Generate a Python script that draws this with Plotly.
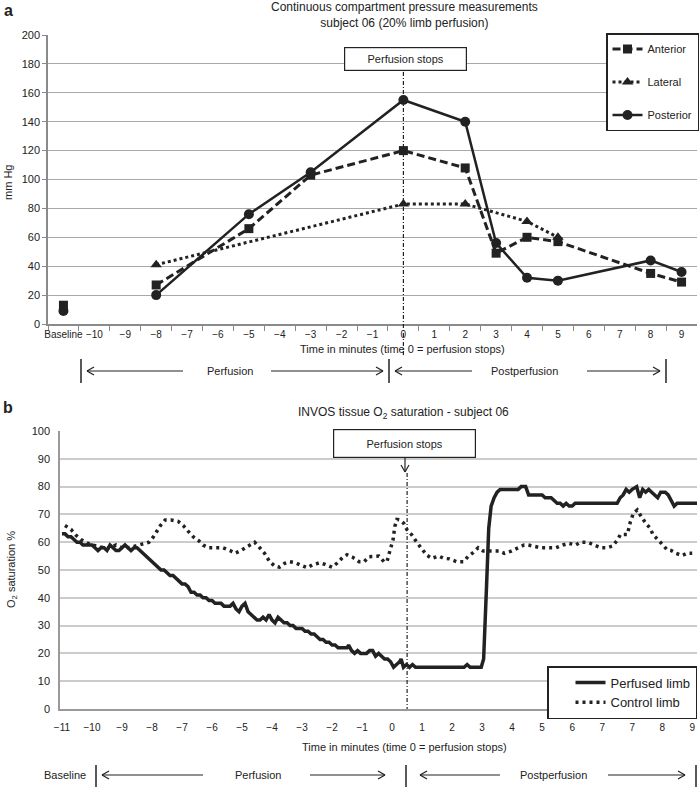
import plotly.graph_objects as go

W, H = 700, 787
FONT = "Liberation Sans, Arial, sans-serif"
INK = "#222222"


def px(x):
    return x / W


def py(y):
    return 1 - y / H


# ---------------- data: panel a ----------------
categories = ["Baseline", "−10", "−9", "−8", "−7", "−6", "−5", "−4", "−3", "−2", "−1",
              "0", "1", "2", "3", "4", "5", "6", "7", "8", "9"]
anterior_t = ["Baseline", "−8", "−5", "−3", "0", "2", "3", "4", "5", "8", "9"]
anterior_v = [13, 27, 66, 103, 120, 108, 49, 60, 57, 35, 29]
lateral_t = ["−8", "0", "2", "4", "5"]
lateral_v = [41, 83, 83, 71, 60]
posterior_t = ["Baseline", "−8", "−5", "−3", "0", "2", "3", "4", "5", "8", "9"]
posterior_v = [9, 20, 76, 105, 155, 140, 56, 32, 30, 44, 36]

# ---------------- data: panel b ----------------
tick_labels = ["−11", "−10", "−9", "−8", "−7", "−6", "−5", "−4", "−3", "−2", "−1",
               "0", "1", "2", "3", "4", "5", "6", "7", "7", "8", "9"]
perf_t = [0.0, 0.1, 0.2, 0.3, 0.4, 0.5, 0.6, 0.7, 0.8, 0.9, 1.0, 1.1, 1.2, 1.3, 1.4,
          1.5, 1.6, 1.7, 1.8, 1.9, 2.0, 2.1, 2.2, 2.3, 2.4, 2.5, 2.6, 2.7, 2.8, 2.9,
          3.0, 3.1, 3.2, 3.3, 3.4, 3.5, 3.6, 3.7, 3.8, 3.9, 4.0, 4.1, 4.2, 4.3, 4.4,
          4.5, 4.6, 4.7, 4.8, 4.9, 5.0, 5.1, 5.2, 5.3, 5.4, 5.5, 5.6, 5.7, 5.8, 5.9,
          6.0, 6.1, 6.2, 6.3, 6.4, 6.5, 6.6, 6.7, 6.8, 6.9, 7.0, 7.1, 7.2, 7.3, 7.4,
          7.5, 7.6, 7.7, 7.8, 7.9, 8.0, 8.1, 8.2, 8.3, 8.4, 8.5, 8.6, 8.7, 8.8, 8.9,
          9.0, 9.1, 9.2, 9.3, 9.4, 9.5, 9.55, 9.65, 9.75, 9.85, 9.95, 10.05, 10.15,
          10.25, 10.35, 10.45, 10.55, 10.65, 10.75, 10.85, 10.95, 11.05, 11.15, 11.25,
          11.3, 11.38, 11.48, 11.58, 11.68, 11.78, 12.5, 13.4, 13.5, 13.6, 13.97,
          14.05, 14.15, 14.22, 14.3, 14.4, 14.5, 14.6, 14.8, 15.2, 15.3, 15.45, 15.55,
          16.0, 16.1, 16.3, 16.4, 16.5, 16.6, 16.7, 16.8, 16.9, 17.0, 17.1, 17.5, 18.0,
          18.5, 18.6, 18.7, 18.8, 18.9, 19.0, 19.15, 19.25, 19.35, 19.45, 19.55, 19.65,
          19.75, 19.85, 19.95, 20.1, 20.2, 20.3, 20.4, 20.5, 21.16]
perf_v = [63, 63, 62, 62, 61, 60, 60, 59, 59, 59, 59, 58, 57, 58, 58,
          57, 59, 58, 57, 57, 58, 59, 58, 57, 58, 58, 57, 56, 55, 54,
          53, 52, 51, 50, 50, 49, 48, 48, 47, 46, 45, 45, 44, 42, 42,
          41, 41, 40, 40, 39, 39, 38, 38, 38, 37, 37, 37, 38, 36, 35,
          37, 38, 35, 34, 33, 32, 32, 33, 32, 34, 32, 31, 33, 32, 31,
          31, 30, 30, 29, 29, 29, 28, 28, 27, 27, 26, 25, 25, 24, 24,
          23, 23, 22, 22, 22, 22, 23, 21, 20, 21, 20, 20, 20,
          21, 21, 19, 20, 19, 18, 18, 17, 15, 16, 17,
          18, 15, 16, 15, 16, 15, 15, 15, 16, 15, 15,
          18, 45, 65, 73, 76, 78, 79, 79, 79, 80, 80, 77,
          77, 76, 76, 75, 74, 74, 73, 74, 73, 73, 74, 74, 74,
          74, 76, 77, 79, 78, 79, 80, 76, 79, 78, 79, 78,
          77, 76, 78, 78, 77, 75, 73, 74, 74]
ctrl_t = [0.1, 0.3, 0.46, 0.63, 0.83, 1.0, 1.2, 1.4, 1.6, 1.8, 2.0, 2.2, 2.4, 2.6, 2.9,
          3.05, 3.2, 3.28, 3.44, 3.64, 3.87, 4.04, 4.2, 4.37, 4.54, 4.7, 4.87, 5.13,
          5.36, 5.6, 5.76, 5.96, 6.19, 6.42, 6.59, 6.75, 6.92, 7.09, 7.25, 7.42, 7.58,
          7.78, 7.95, 8.18, 8.34, 8.58, 8.77, 9.0, 9.17, 9.34, 9.5, 9.67, 9.9, 10.07,
          10.23, 10.4, 10.56, 10.73, 10.83, 10.93, 11.03, 11.09, 11.16, 11.26, 11.39,
          11.49, 11.66, 11.82, 11.99, 12.15, 12.32, 12.55, 12.72, 12.91, 13.15, 13.38,
          13.54, 13.71, 13.87, 14.04, 14.21, 14.37, 14.57, 14.74, 14.97, 15.2, 15.4,
          15.53, 15.73, 15.96, 16.23, 16.46, 16.69, 16.89, 17.12, 17.28, 17.52, 17.72,
          17.95, 18.18, 18.34, 18.51, 18.61, 18.84, 18.94, 19.04, 19.17, 19.27, 19.44,
          19.6, 19.7, 19.87, 20.03, 20.17, 20.3, 20.46, 20.66, 20.83, 21.0]
ctrl_v = [66, 64.6, 62.6, 61, 59.8, 59, 58.5, 58, 58, 59, 58, 58, 58.5, 59, 60,
          62, 64.4, 66, 68, 68, 67.5, 66, 64, 62, 60.7, 59, 58, 58,
          58, 57, 56, 57, 58.5, 60, 58, 56, 53, 51.4, 51, 52.4, 53,
          52.6, 51.8, 50.8, 51.8, 52.6, 52, 51, 52.5, 54.4, 55.5, 54.7, 53, 53,
          54.8, 55, 55, 53, 53, 57, 60.8, 65.6, 68.2, 68, 66.8,
          64.6, 62.6, 60, 57.4, 55.4, 54.2, 55, 54.2, 54, 53, 53,
          55, 56.3, 58, 56.8, 56.8, 56.8, 56.8, 56, 56.8, 58, 59,
          59, 58.6, 58, 58, 58, 59, 59.6, 59, 60, 60, 59,
          58, 58, 58.6, 60.8, 62.8, 62.8, 67.4, 70.4, 71.6, 69.8, 67,
          65, 62.6, 60.8, 59, 57.2, 57, 56, 55.2, 56, 56]


def with_gap(t, v):
    xs, ys = [], []
    for a, b in zip(t, v):
        if xs and xs[-1] == "Baseline":
            xs.append(categories[1])
            ys.append(None)
        xs.append(a)
        ys.append(b)
    return xs, ys


fig = go.Figure()

ax, ay = with_gap(anterior_t, anterior_v)
fig.add_trace(go.Scatter(x=ax, y=ay, name="Anterior", mode="lines+markers",
                         line=dict(color=INK, width=3, dash="8px,4px"),
                         marker=dict(symbol="square", size=9, color=INK),
                         xaxis="x", yaxis="y", legend="legend", legendgroup="a"))
lx, ly = with_gap(lateral_t, lateral_v)
fig.add_trace(go.Scatter(x=lx, y=ly, name="Lateral", mode="lines+markers",
                         line=dict(color=INK, width=3, dash="3px,3px"),
                         marker=dict(symbol="triangle-up", size=10, color=INK),
                         xaxis="x", yaxis="y", legend="legend", legendgroup="b"))
qx, qy = with_gap(posterior_t, posterior_v)
fig.add_trace(go.Scatter(x=qx, y=qy, name="Posterior", mode="lines+markers",
                         line=dict(color=INK, width=2.5),
                         marker=dict(symbol="circle", size=10, color=INK),
                         xaxis="x", yaxis="y", legend="legend", legendgroup="c"))

fig.add_trace(go.Scatter(x=perf_t, y=perf_v, name="Perfused limb", mode="lines",
                         line=dict(color=INK, width=3.5),
                         xaxis="x2", yaxis="y2", legend="legend2", legendgroup="d"))
fig.add_trace(go.Scatter(x=ctrl_t, y=ctrl_v, name="Control limb", mode="lines",
                         line=dict(color=INK, width=3.5, dash="3px,4px"),
                         xaxis="x2", yaxis="y2", legend="legend2", legendgroup="e"))

tf = dict(family=FONT, size=11, color=INK)

layout = dict(
    width=W, height=H, margin=dict(l=0, r=0, t=0, b=0, autoexpand=False),
    paper_bgcolor="white", plot_bgcolor="white",
    font=tf,
    xaxis=dict(domain=[px(48), px(697)], anchor="y", type="category",
               categoryorder="array", categoryarray=categories, range=[-0.5, 20.5],
               tickson="boundaries", ticks="outside", ticklen=5, tickcolor="#8a8a8a",
               showline=True, linecolor="#8a8a8a", linewidth=1.5, showgrid=False,
               tickfont=dict(family=FONT, size=10, color=INK), tickangle=0,
               fixedrange=True),
    yaxis=dict(domain=[py(324), py(35)], anchor="x", range=[0, 200], dtick=20,
               showgrid=True, gridcolor="#a8a8a8", gridwidth=1.3, showline=True,
               linecolor="#8a8a8a", linewidth=1.5, ticks="outside", ticklen=4,
               tickcolor="#8a8a8a", zeroline=False,
               tickfont=dict(family=FONT, size=11, color=INK), fixedrange=True),
    xaxis2=dict(domain=[px(60), px(697)], anchor="y2", range=[-0.066, 21.16],
                tickvals=list(range(len(tick_labels))), ticktext=tick_labels,
                showgrid=False, showline=True, linecolor="#9a9a9a", linewidth=1.5,
                ticks="", zeroline=False, ticklabelstandoff=8,
                tickfont=dict(family=FONT, size=10, color=INK), fixedrange=True),
    yaxis2=dict(domain=[py(709), py(431)], anchor="x2", range=[0, 100], dtick=10,
                showgrid=True, gridcolor="#cccccc", gridwidth=1.5, showline=True,
                linecolor="#9a9a9a", linewidth=1.5, ticks="", zeroline=False,
                ticklabelstandoff=6,
                tickfont=dict(family=FONT, size=11, color=INK), fixedrange=True),
    legend=dict(x=px(699), y=py(33), xanchor="right", yanchor="top",
                bordercolor=INK, borderwidth=1.5, bgcolor="white",
                font=dict(family=FONT, size=11, color=INK), tracegroupgap=14),
    legend2=dict(x=px(697), y=py(666), xanchor="right", yanchor="top",
                 bordercolor=INK, borderwidth=1.5, bgcolor="white",
                 font=dict(family=FONT, size=13, color=INK), tracegroupgap=0,
                 indentation=22),
    showlegend=True,
)
fig.update_layout(**layout)

ann = []
shapes = []


def text(x, y, s, size=11, **kw):
    ann.append(dict(x=px(x), y=py(y), xref="paper", yref="paper", text=s,
                    showarrow=False, font=dict(family=FONT, size=size, color=INK),
                    xanchor=kw.pop("xanchor", "center"), yanchor="middle", **kw))


def line(x0, y0, x1, y1, w=1.2, dash=None):
    d = dict(type="line", xref="paper", yref="paper", x0=px(x0), y0=py(y0),
             x1=px(x1), y1=py(y1), line=dict(color=INK, width=w))
    if dash:
        d["line"]["dash"] = dash
    shapes.append(d)


def harrow(x0, x1, y):
    line(x0, y, x1, y)
    s = 1 if x1 > x0 else -1
    line(x1, y, x1 - s * 7, y - 4)
    line(x1, y, x1 - s * 7, y + 4)


def varrow(x, y0, y1):
    line(x, y0, x, y1)
    line(x, y1, x - 4, y1 - 7)
    line(x, y1, x + 4, y1 - 7)


# panel labels and titles
text(8, 11, "<b>a</b>", size=16)
text(8, 407, "<b>b</b>", size=16)
text(404, 15, "Continuous compartment pressure measurements<br>subject 06 (20% limb perfusion)",
     size=12)
text(403, 413, "INVOS tissue O<sub>2</sub> saturation - subject 06", size=12)
text(8, 183, "mm Hg", size=11, textangle=-90)
text(12, 570, "O<sub>2</sub> saturation %", size=11, textangle=-90)
text(402, 349, "Time in minutes (time 0 = perfusion stops)", size=11)
text(404, 747, "Time in minutes (time 0 = perfusion stops)", size=11)

# perfusion stops boxes
ann.append(dict(x=px(405), y=py(46.5), xref="paper", yref="paper", text="Perfusion stops",
                showarrow=False, font=dict(family=FONT, size=11, color=INK),
                bordercolor=INK, borderwidth=1.2, bgcolor="white", borderpad=0,
                width=121, height=22))
ann.append(dict(x=px(404), y=py(444), xref="paper", yref="paper", text="Perfusion stops",
                showarrow=False, font=dict(family=FONT, size=11, color=INK),
                bordercolor=INK, borderwidth=1.2, bgcolor="white", borderpad=0,
                width=141, height=27))
varrow(404, 58, 71)
varrow(405, 458, 472)

# vertical dash-dot lines at perfusion stop
shapes.append(dict(type="line", xref="x", yref="paper", x0=categories.index("0"),
                   x1=categories.index("0"), y0=py(72), y1=py(356),
                   line=dict(color=INK, width=1.2, dash="4px,2px,1px,2px")))
shapes.append(dict(type="line", xref="x2", yref="paper", x0=11.5, x1=11.5,
                   y0=py(473), y1=py(709),
                   line=dict(color=INK, width=1.2, dash="4px,2px,1px,2px")))

# phase indicators, panel a
for xb in (81, 389, 666):
    line(xb, 359, xb, 383, w=1.5)
harrow(183, 87, 371)
harrow(271, 383, 371)
harrow(472, 395, 371)
harrow(587, 660, 371)
text(230, 371, "Perfusion")
text(524, 371, "Postperfusion")

# phase indicators, panel b
for xb in (96, 406, 696):
    line(xb, 765, xb, 787, w=1.5)
harrow(203, 102, 775)
harrow(310, 385, 775)
harrow(500, 420, 775)
harrow(608, 685, 775)
text(65, 775, "Baseline")
text(258, 775, "Perfusion")
text(553, 775, "Postperfusion")

fig.update_layout(annotations=ann, shapes=shapes)
fig.write_html("out.html", config={"displayModeBar": False},
               post_script="document.body.style.margin='0px';"
                           "document.body.style.overflow='hidden';")
